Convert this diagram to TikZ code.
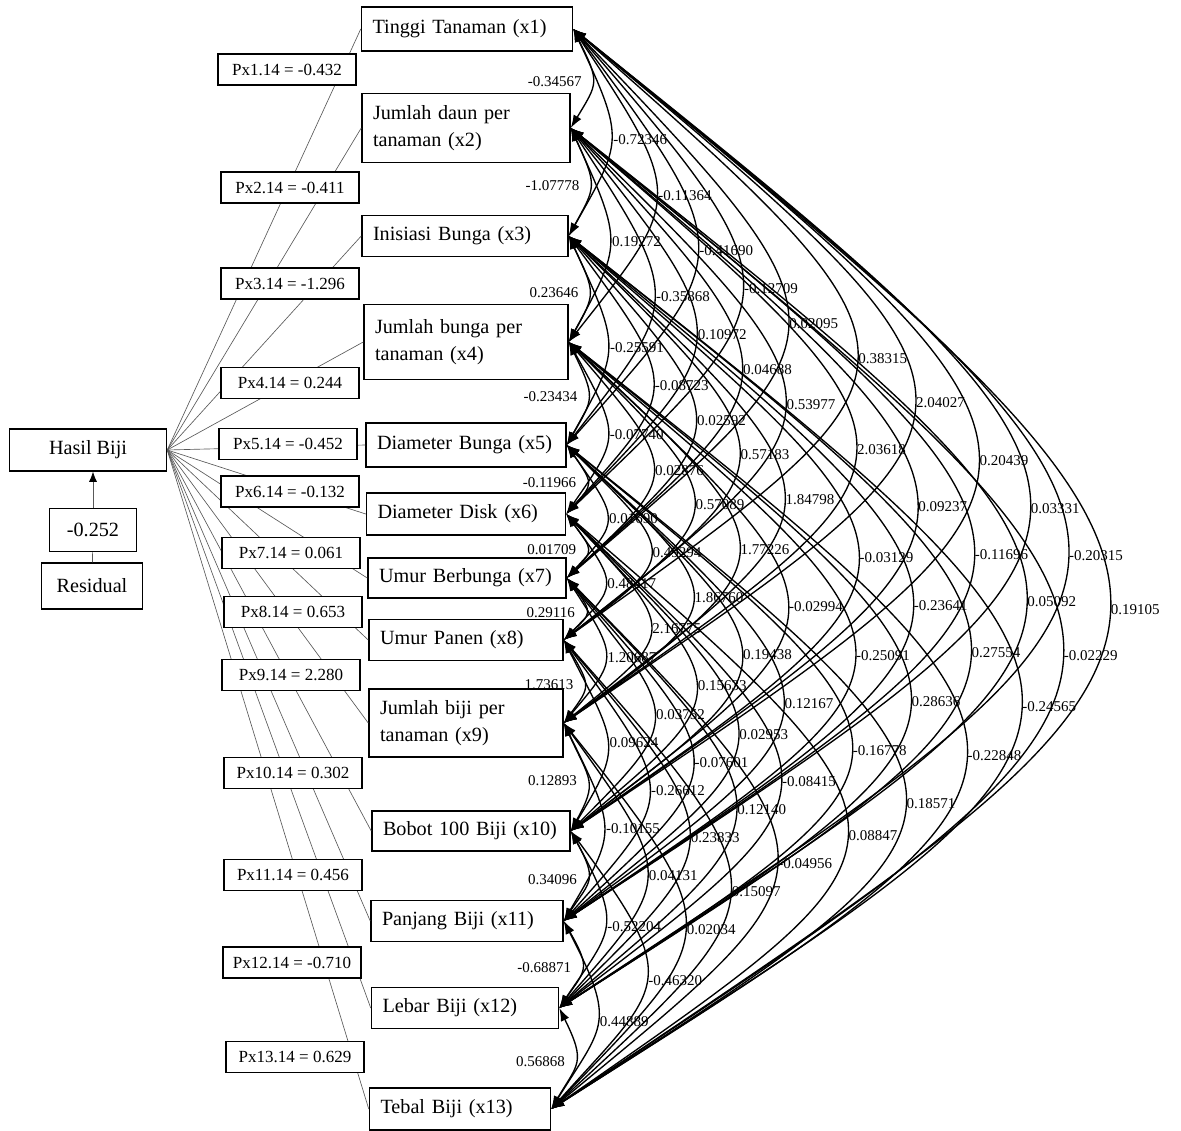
\documentclass[tikz,border=0pt]{standalone}
\usepackage{fontspec}
\setmainfont{Liberation Serif}
\usetikzlibrary{arrows.meta,calc}

\newcommand\boxfont{\fontsize{20.2}{27}\selectfont}
\newcommand\pfont{\fontsize{17}{19}\selectfont}
\newcommand\cfont{\fontsize{15}{17}\selectfont}

\tikzset{
  varbox/.style 2 args={draw, line width=1.5pt, fill=white, align=left,
    text width=#1pt, minimum height=#2pt, inner xsep=11pt, inner ysep=2pt, font=\boxfont},
  midbox/.style={draw, line width=1.5pt, fill=white, inner sep=2pt, font=\boxfont},
  pbox/.style={draw, line width=1.4pt, fill=white, minimum width=138pt,
    minimum height=31pt, inner sep=1pt, font=\pfont},
  pline/.style={draw=black!65, line width=0.65pt},
  corr/.style={<->, >={Latex[length=13pt,width=9pt]}, line width=1.35pt},
  clbl/.style={font=\cfont, inner sep=2pt}
}

\begin{document}
\begin{tikzpicture}[x=1pt, y=1pt]
    \useasboundingbox (0,0) rectangle (1181,-1131);

    % Predictor boxes
    \node[varbox={189}{44}] (x1) at (467,-29) {Tinggi Tanaman (x1)};
    \node[varbox={186}{69}] (x2) at (466,-128) {Jumlah daun per\\tanaman (x2)};
    \node[varbox={184}{41}] (x3) at (465,-236) {Inisiasi Bunga (x3)};
    \node[varbox={182}{75}] (x4) at (466,-342) {Jumlah bunga per\\tanaman (x4)};
    \node[varbox={178}{44}] (x5) at (466,-445) {Diameter Bunga (x5)};
    \node[varbox={177}{42}] (x6) at (466,-514) {Diameter Disk (x6)};
    \node[varbox={176}{40}] (x7) at (467,-578) {Umur Berbunga (x7)};
    \node[varbox={172}{41}] (x8) at (466,-640) {Umur Panen (x8)};
    \node[varbox={172}{68}] (x9) at (466,-723) {Jumlah biji per\\tanaman (x9)};
    \node[varbox={176}{40}] (x10) at (471,-831) {Bobot 100 Biji (x10)};
    \node[varbox={170}{41}] (x11) at (467,-921) {Panjang Biji (x11)};
    \node[varbox={165}{41}] (x12) at (465,-1008) {Lebar Biji (x12)};
    \node[varbox={159}{42}] (x13) at (460,-1109) {Tebal Biji (x13)};

    % Response and residual
    \node[midbox, minimum width=157pt, minimum height=42pt] (hasil) at (88,-450) {Hasil Biji};
    \node[midbox, minimum width=87pt, minimum height=43pt] (rcoef) at (93,-530) {-0.252};
    \node[midbox, minimum width=101pt, minimum height=46pt] (resid) at (92,-586) {Residual};
    \draw[pline] (resid) -- (rcoef);
    \draw[pline, -{Latex[length=10pt,width=8pt,color=black]}] (rcoef.north) -- (rcoef.north |- hasil.south);

    % Direct paths
    \foreach \i in {1,...,13}
        \draw[pline] (hasil.east) -- (x\i.west);

    % Path coefficients
    \foreach \i/\x/\y/\v in {1/287/69.5/-0.432, 2/290/187.5/-0.411, 3/290/283.5/-1.296,
        4/290/383/0.244, 5/288/444/-0.452, 6/290/491.5/-0.132, 7/291/553/0.061,
        8/293/612/0.653, 9/291/675/2.280, 10/293/773/0.302, 11/293/875/0.456,
        12/292/962.5/-0.710, 13/295/1057/0.629}
        \node[pbox] (p\i) at (\x,-\y) {Px\i.14 = \v};

    % Correlations between predictors
    \def\hlist{{0,27,53,113,169,229,289,383,460,540,613,667,728}}
    \foreach \i/\j/\v in {1/2/-0.34567, 2/3/-1.07778, 3/4/0.23646, 4/5/-0.23434,
        5/6/-0.11966, 6/7/0.01709, 7/8/0.29116, 8/9/1.73613, 9/10/0.12893,
        10/11/0.34096, 11/12/-0.68871, 12/13/0.56868,
        1/3/-0.72346, 2/4/0.19272, 3/5/-0.25591, 4/6/-0.07740, 5/7/0.01690,
        6/8/0.48417, 7/9/1.20687, 8/10/0.09624, 9/11/-0.10155, 10/12/-0.52204, 11/13/0.44889,
        1/4/-0.11364, 2/5/-0.35868, 3/6/-0.08723, 4/7/0.02876, 5/8/0.49294,
        6/9/2.16775, 7/10/0.03752, 8/11/-0.26612, 9/12/0.04131, 10/13/-0.46320,
        1/5/-0.41690, 2/6/0.10972, 3/7/0.02592, 4/8/0.57089, 5/9/1.86760,
        6/10/0.15633, 7/11/-0.07601, 8/12/0.23833, 9/13/0.02034,
        1/6/-0.12709, 2/7/0.04688, 3/8/0.57183, 4/9/1.77226, 5/10/0.19438,
        6/11/0.02953, 7/12/0.12140, 8/13/0.15097,
        1/7/0.02095, 2/8/0.53977, 3/9/1.84798, 4/10/-0.02994, 5/11/0.12167,
        6/12/-0.08415, 7/13/-0.04956,
        1/8/0.38315, 2/9/2.03618, 3/10/-0.03129, 4/11/-0.25091, 5/12/-0.16778, 6/13/0.08847,
        1/9/2.04027, 2/10/0.09237, 3/11/-0.23641, 4/12/0.28636, 5/13/0.18571,
        1/10/0.20439, 2/11/-0.11696, 3/12/0.27554, 4/13/-0.22848,
        1/11/0.03331, 2/12/0.05092, 3/13/-0.24565,
        1/12/-0.20315, 2/13/-0.02229,
        1/13/0.19105}{
        \pgfmathtruncatemacro\k{\j-\i}
        \pgfmathsetmacro\h{\hlist[\k]}
        \ifnum\k=1 \def\anc{east}\def\xs{-8}\else\def\anc{west}\def\xs{0}\fi
        \draw[corr] let \p1=(x\i.east), \p2=(x\j.east),
            \n1={(\y1-\y2)/2+4.5*\k}, \n2={(\y1-\y2)/2-4.5*\k} in
            (\p1) .. controls +(\h pt,-\n1) and +(\h pt,\n2) .. (\p2)
            node[clbl, pos=0.5, anchor=\anc, xshift=\xs pt] {\v};
    }
\end{tikzpicture}
\end{document}
